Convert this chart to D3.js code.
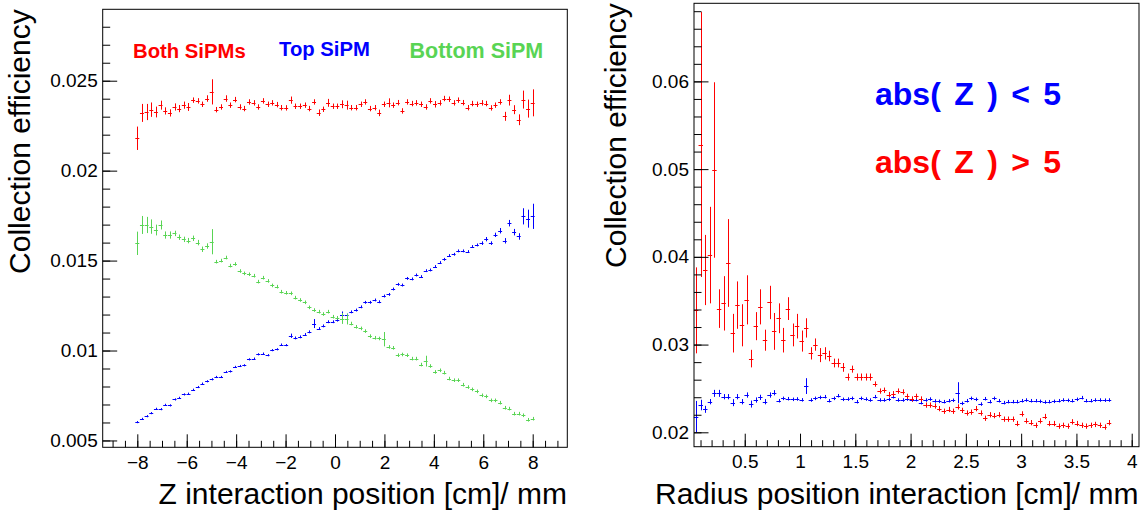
<!DOCTYPE html>
<html><head><meta charset="utf-8">
<script src="https://cdn.jsdelivr.net/npm/d3@7"></script>
<style>
body{margin:0;background:#fff}
svg{display:block}
text{font-family:"Liberation Sans",Arial,Helvetica,sans-serif}
</style>
</head><body>
<svg id="chart" width="1146" height="518"></svg>
<script>
// ---------- Left panel data ----------
const zPositions = [-8,-7.812,-7.624,-7.435,-7.247,-7.059,-6.871,-6.682,-6.494,-6.306,
-6.118,-5.929,-5.741,-5.553,-5.365,-5.176,-4.988,-4.8,-4.612,-4.424,
-4.235,-4.047,-3.859,-3.671,-3.482,-3.294,-3.106,-2.918,-2.729,-2.541,
-2.353,-2.165,-1.976,-1.788,-1.6,-1.412,-1.224,-1.035,-0.847,-0.659,
-0.471,-0.282,-0.094,0.094,0.282,0.471,0.659,0.847,1.035,1.224,
1.412,1.6,1.788,1.976,2.165,2.353,2.541,2.729,2.918,3.106,
3.294,3.482,3.671,3.859,4.047,4.235,4.424,4.612,4.8,4.988,
5.176,5.365,5.553,5.741,5.929,6.118,6.306,6.494,6.682,6.871,
7.059,7.247,7.435,7.624,7.812,8];
const bothEff = [0.02180,0.02321,0.02326,0.02339,0.02326,0.02364,0.02332,0.02321,0.02354,0.02345,
0.02364,0.02354,0.02392,0.02388,0.02369,0.02401,0.02438,0.02339,0.02354,0.02401,
0.02364,0.02395,0.02354,0.02345,0.02382,0.02377,0.02354,0.02388,0.02369,0.02377,
0.02367,0.02350,0.02349,0.02392,0.02358,0.02358,0.02364,0.02345,0.02382,0.02322,
0.02341,0.02377,0.02358,0.02358,0.02369,0.02364,0.02350,0.02350,0.02369,0.02382,
0.02345,0.02350,0.02321,0.02369,0.02377,0.02364,0.02378,0.02332,0.02382,0.02373,
0.02377,0.02369,0.02354,0.02388,0.02369,0.02377,0.02401,0.02397,0.02377,0.02392,
0.02378,0.02350,0.02373,0.02369,0.02377,0.02373,0.02349,0.02364,0.02382,0.02302,
0.02392,0.02339,0.02283,0.02395,0.02345,0.02377];
const bothErr = [0.00065,0.0005,0.00045,0.0004,0.0003,0.00025,0.0002,0.0002,0.0002,0.0002,
0.0002,0.00022,0.00015,0.00015,0.00015,0.00018,0.0007,0.00015,0.00015,0.00018,
0.00015,0.00015,0.00015,0.00015,0.00015,0.00015,0.00015,0.00015,0.00015,0.00015,
0.00015,0.00015,0.00015,0.0002,0.00015,0.00015,0.00015,0.00015,0.00015,0.00018,
0.00015,0.00022,0.00015,0.00015,0.00022,0.00025,0.00015,0.00015,0.00015,0.00015,
0.00015,0.00015,0.00018,0.00015,0.00025,0.00015,0.00015,0.00015,0.00015,0.00015,
0.00015,0.00015,0.00015,0.00015,0.00018,0.00015,0.00015,0.00015,0.00015,0.00015,
0.00015,0.00015,0.00015,0.00015,0.00015,0.00015,0.00015,0.00015,0.00015,0.00025,
0.0003,0.00025,0.0003,0.0005,0.0005,0.00075];
const topEff = [0.00602,0.00620,0.00635,0.00652,0.00676,0.00674,0.00698,0.00695,0.00728,0.00737,
0.00756,0.00760,0.00782,0.00797,0.00816,0.00829,0.00840,0.00853,0.00853,0.00881,
0.00884,0.00909,0.00914,0.00918,0.00951,0.00955,0.00979,0.00983,0.00974,0.01002,
0.01007,0.01033,0.01030,0.01082,0.01070,0.01076,0.01089,0.01104,0.01150,0.01122,
0.01137,0.01160,0.01160,0.01169,0.01197,0.01197,0.01215,0.01225,0.01243,0.01268,
0.01268,0.01281,0.01271,0.01303,0.01312,0.01342,0.01368,0.01364,0.01401,0.01398,
0.01420,0.01411,0.01444,0.01448,0.01467,0.01489,0.01507,0.01528,0.01535,0.01554,
0.01554,0.01550,0.01578,0.01587,0.01597,0.01619,0.01597,0.01643,0.01666,0.01610,
0.01708,0.01658,0.01634,0.01746,0.01733,0.01746];
const topErr = [0.00006,0.00006,0.00006,0.00006,0.00006,0.00006,0.00006,0.00006,0.00006,0.00006,
0.00006,0.00006,0.00006,0.00006,0.00006,0.00006,0.00006,0.00006,0.00006,0.00006,
0.00006,0.00006,0.00006,0.00006,0.00006,0.00006,0.00006,0.00006,0.00006,0.00006,
0.00006,0.00006,0.00006,0.00012,0.00008,0.00008,0.00008,0.00008,0.00025,0.00008,
0.00008,0.00008,0.00008,0.00008,0.0002,0.00008,0.00008,0.00008,0.00008,0.00008,
0.00008,0.00008,0.00008,0.00008,0.00008,0.00008,0.00008,0.00008,0.00008,0.00008,
0.00008,0.00008,0.00008,0.00008,0.00008,0.00008,0.00008,0.00008,0.00008,0.00008,
0.00008,0.00008,0.00008,0.00008,0.0001,0.00012,0.0001,0.00012,0.00015,0.00015,
0.00018,0.00018,0.00018,0.00045,0.0005,0.0007];
const bottomEff = [0.01596,0.01698,0.01698,0.01689,0.01670,0.01698,0.01642,0.01642,0.01651,0.01630,
0.01618,0.01611,0.01624,0.01600,0.01563,0.01581,0.01605,0.01494,0.01500,0.01517,
0.01472,0.01481,0.01442,0.01429,0.01424,0.01416,0.01383,0.01405,0.01387,0.01362,
0.01355,0.01327,0.01321,0.01318,0.01294,0.01281,0.01268,0.01240,0.01225,0.01216,
0.01203,0.01216,0.01188,0.01182,0.01178,0.01175,0.01150,0.01132,0.01123,0.01108,
0.01080,0.01071,0.01067,0.01063,0.01020,0.01015,0.00974,0.00978,0.00974,0.00955,
0.00955,0.00922,0.00941,0.00914,0.00881,0.00890,0.00877,0.00844,0.00835,0.00835,
0.00810,0.00797,0.00784,0.00773,0.00751,0.00745,0.00723,0.00723,0.00710,0.00682,
0.00677,0.00649,0.00649,0.00640,0.00615,0.00621];
const bottomErr = [0.00065,0.0005,0.00045,0.0004,0.0003,0.00025,0.0002,0.0002,0.00015,0.00015,
0.00015,0.00015,0.00015,0.00015,0.00015,0.00015,0.0007,0.0001,0.0001,0.0001,
0.0001,0.0001,0.0001,0.0001,0.0001,0.0001,0.0001,0.0001,0.0001,0.0001,
0.0001,0.0001,0.0001,0.0001,0.0001,0.0001,0.0001,0.0001,0.0001,0.0001,
0.0001,0.0001,0.0001,0.0001,0.0003,0.0003,0.0001,0.0001,0.0001,0.0001,
0.0001,0.0001,0.0001,0.0004,0.0001,0.0001,0.0001,0.0001,0.0001,0.0001,
0.0001,0.0001,0.0003,0.0001,0.0001,0.0001,0.0001,0.0001,0.0001,0.0001,
0.0001,0.0001,0.0001,0.0001,0.0001,0.0001,0.0001,0.0001,0.0001,0.0001,
0.0001,0.0001,0.0001,0.0001,0.0001,0.0001];
const leftSeries = [
  {name: "Both SiPMs", color: "#ff0000", eff: bothEff, err: bothErr},
  {name: "Top SiPM", color: "#0000ff", eff: topEff, err: topErr},
  {name: "Bottom SiPM", color: "#59d454", eff: bottomEff, err: bottomErr}
];
const leftXTicks = [-8, -6, -4, -2, 0, 2, 4, 6, 8];
const leftYTicks = [0.005, 0.01, 0.015, 0.02, 0.025];
const leftYTickLabels = ["0.005", "0.01", "0.015", "0.02", "0.025"];

// ---------- Right panel data ----------
const rPositions = [0.060,0.102,0.143,0.185,0.226,0.268,0.309,0.351,0.392,0.434,
0.475,0.517,0.558,0.600,0.641,0.683,0.724,0.766,0.807,0.849,
0.890,0.932,0.973,1.015,1.056,1.098,1.139,1.181,1.222,1.264,
1.305,1.347,1.388,1.430,1.471,1.513,1.554,1.596,1.637,1.679,
1.720,1.762,1.803,1.845,1.886,1.928,1.969,2.011,2.052,2.094,
2.135,2.177,2.218,2.260,2.301,2.343,2.384,2.426,2.467,2.509,
2.550,2.592,2.633,2.675,2.716,2.758,2.799,2.841,2.882,2.924,
2.965,3.007,3.048,3.090,3.131,3.173,3.214,3.256,3.297,3.339,
3.380,3.422,3.463,3.505,3.546,3.588,3.629,3.671,3.712,3.754,3.795];
const innerEff = [0.02178,0.02311,0.02262,0.02349,0.02444,0.02444,0.02406,0.02406,0.02338,0.02406,
0.02349,0.02425,0.02322,0.02368,0.02398,0.02349,0.02425,0.02451,0.02360,0.02387,
0.02383,0.02376,0.02380,0.02370,0.02527,0.02368,0.02387,0.02398,0.02406,0.02360,
0.02387,0.02417,0.02376,0.02379,0.02387,0.02349,0.02387,0.02379,0.02368,0.02406,
0.02368,0.02368,0.02376,0.02406,0.02368,0.02368,0.02379,0.02368,0.02372,0.02338,
0.02368,0.02379,0.02357,0.02353,0.02349,0.02360,0.02365,0.02451,0.02330,0.02360,
0.02387,0.02376,0.02322,0.02383,0.02349,0.02387,0.02360,0.02338,0.02349,0.02349,
0.02349,0.02360,0.02368,0.02360,0.02360,0.02353,0.02345,0.02349,0.02353,0.02360,
0.02368,0.02364,0.02360,0.02376,0.02395,0.02360,0.02360,0.02368,0.02368,0.02366,0.02368];
const innerErr = [0.0018,0.0006,0.0004,0.0003,0.0004,0.0004,0.0003,0.0003,0.0004,0.0003,
0.0003,0.0003,0.0004,0.0003,0.0003,0.0003,0.0003,0.0003,0.0002,0.0002,
0.0002,0.0002,0.0002,0.0002,0.0009,0.0002,0.0002,0.0002,0.0002,0.0002,
0.0002,0.0002,0.0002,0.0002,0.0002,0.0002,0.0002,0.0002,0.0002,0.0002,
0.0002,0.0002,0.0002,0.0002,0.0002,0.0002,0.0002,0.0002,0.0002,0.0002,
0.0002,0.0002,0.0002,0.0002,0.0002,0.0002,0.0002,0.0012,0.0002,0.0002,
0.0002,0.0002,0.0002,0.0002,0.0002,0.0002,0.0002,0.0002,0.0002,0.0002,
0.0002,0.0002,0.0002,0.0002,0.0002,0.0002,0.0002,0.0002,0.0002,0.0002,
0.0002,0.0002,0.0002,0.0002,0.0002,0.0002,0.0002,0.0002,0.0002,0.0002,0.0002];
const outerEff = [0.0339,0.0528,0.0385,0.0402,0.0499,0.0341,0.0347,0.0393,0.0313,0.0345,
0.0322,0.0351,0.0284,0.0321,0.0343,0.0305,0.0348,0.0315,0.0330,0.0305,
0.0341,0.0311,0.0321,0.0304,0.0319,0.0290,0.0300,0.0288,0.0290,0.0287,
0.0279,0.0279,0.0274,0.0263,0.0272,0.0263,0.0263,0.0263,0.0263,0.0255,
0.0247,0.0248,0.0243,0.0244,0.0247,0.0246,0.0241,0.0238,0.0241,0.0238,
0.0231,0.0231,0.0230,0.0227,0.0224,0.0226,0.0224,0.0229,0.0225,0.0222,
0.0223,0.0227,0.0222,0.0216,0.0220,0.0219,0.0220,0.0215,0.0215,0.0215,
0.0210,0.0221,0.0213,0.0211,0.0208,0.0213,0.0218,0.0210,0.0210,0.0207,
0.0208,0.0207,0.0212,0.0210,0.0208,0.0207,0.0208,0.0209,0.0208,0.0206,0.0211];
const outerErr = [0.0049,0.0151,0.004,0.0055,0.01,0.0022,0.0031,0.005,0.0022,0.0027,
0.0024,0.0028,0.001,0.0016,0.002,0.0012,0.0019,0.0021,0.0017,0.0014,
0.0013,0.0013,0.0014,0.0012,0.0011,0.0007,0.0007,0.0008,0.0007,0.0006,
0.0005,0.0005,0.0005,0.0004,0.0004,0.0004,0.0004,0.0004,0.0004,0.0003,
0.0003,0.0003,0.0003,0.0003,0.0003,0.0003,0.0003,0.0003,0.0003,0.0003,
0.0003,0.0003,0.0003,0.0003,0.0003,0.0003,0.0003,0.0003,0.0003,0.0003,
0.0003,0.0003,0.0003,0.0003,0.0003,0.0003,0.0003,0.0003,0.0003,0.0003,
0.0003,0.0003,0.0003,0.0003,0.0003,0.0003,0.0003,0.0003,0.0003,0.0003,
0.0003,0.0003,0.0003,0.0003,0.0003,0.0003,0.0003,0.0003,0.0003,0.0003,0.0003];
const rightSeries = [
  {name: "abs( Z ) < 5", color: "#0000ff", eff: innerEff, err: innerErr},
  {name: "abs( Z ) > 5", color: "#ff0000", eff: outerEff, err: outerErr}
];
const rightXTicks = [0.5, 1, 1.5, 2, 2.5, 3, 3.5, 4];
const rightXTickLabels = ["0.5", "1", "1.5", "2", "2.5", "3", "3.5", "4"];
const rightYTicks = [0.02, 0.03, 0.04, 0.05, 0.06];
const rightYTickLabels = ["0.02", "0.03", "0.04", "0.05", "0.06"];

// ---------- drawing ----------
const svg = d3.select("#chart");
svg.append("rect").attr("width", 1146).attr("height", 518).attr("fill", "#fff");

function panel(opt) {
  const g = svg.append("g");
  const x = d3.scaleLinear().domain(opt.xDomain).range([opt.left, opt.right]);
  const y = d3.scaleLinear().domain(opt.yDomain).range([opt.bottom, opt.top]);

  opt.series.forEach(s => {
    const sg = g.append("g").attr("stroke", s.color).attr("stroke-width", 1).attr("fill", "none");
    const pts = opt.xs.map((xv, i) => ({x: xv, v: s.eff[i], e: s.err[i]})).filter(d => d.v != null);
    sg.selectAll("line.v").data(pts).join("line").attr("class", "v")
      .attr("x1", d => Math.round(x(d.x)) + 0.5).attr("x2", d => Math.round(x(d.x)) + 0.5)
      .attr("y1", d => Math.max(opt.top, y(d.v + d.e))).attr("y2", d => Math.min(opt.bottom, y(d.v - d.e)));
    sg.selectAll("line.h").data(pts).join("line").attr("class", "h")
      .attr("x1", d => x(d.x - opt.halfBin)).attr("x2", d => x(d.x + opt.halfBin))
      .attr("y1", d => Math.round(y(d.v)) + 0.5).attr("y2", d => Math.round(y(d.v)) + 0.5);
  });

  g.append("rect").attr("x", opt.left).attr("y", opt.top)
    .attr("width", opt.right - opt.left).attr("height", opt.bottom - opt.top)
    .attr("fill", "none").attr("stroke", "#000").attr("stroke-width", 1);

  const yMinor = d3.range(opt.yMinorStart, opt.yDomain[1], opt.yMinorStep).filter(v => v >= opt.yDomain[0]);
  const yAxisMinor = d3.axisLeft(y).tickValues(yMinor).tickSize(-7.5).tickFormat("");
  const yAxisMajor = d3.axisLeft(y).tickValues(opt.yTicks).tickSize(-14.5).tickPadding(5)
    .tickFormat((d, i) => opt.yLabels[i]);
  const gy1 = g.append("g").attr("transform", `translate(${opt.left},0)`).call(yAxisMinor);
  const gy2 = g.append("g").attr("transform", `translate(${opt.left},0)`).call(yAxisMajor);

  const xMinor = d3.range(opt.xMinorStart, opt.xDomain[1], opt.xMinorStep).filter(v => v >= opt.xDomain[0]);
  const xAxisMinor = d3.axisBottom(x).tickValues(xMinor).tickSize(-6.5).tickFormat("");
  const xAxisMajor = d3.axisBottom(x).tickValues(opt.xTicks).tickSize(-13).tickPadding(8)
    .tickFormat((d, i) => opt.xLabels ? opt.xLabels[i] : d3.format("")(d));
  const gx1 = g.append("g").attr("transform", `translate(0,${opt.bottom})`).call(xAxisMinor);
  const gx2 = g.append("g").attr("transform", `translate(0,${opt.bottom})`).call(xAxisMajor);

  [gy1, gy2, gx1, gx2].forEach(a => {
    a.select(".domain").remove();
    a.selectAll("line").attr("stroke", "#000");
    a.selectAll("text").attr("font-size", 19).attr("fill", "#000")
      .attr("font-family", '"Liberation Sans",Arial,sans-serif');
  });

  g.append("text").attr("transform", `translate(${opt.yTitleX},${opt.top}) rotate(-90)`)
    .attr("text-anchor", "end").attr("font-size", 30).text("Collection efficiency");
  g.append("text").attr("x", opt.xTitleRight).attr("y", 504)
    .attr("text-anchor", "end").attr("font-size", 30).text(opt.xTitle);
  return g;
}

const gl = panel({
  left: 102.7, right: 567.3, top: 9.3, bottom: 447.3,
  xDomain: [-9.4, 9.4], yDomain: [0.00462, 0.02897],
  xs: zPositions, series: leftSeries, halfBin: 0.08,
  xTicks: leftXTicks, xMinorStart: -9.5, xMinorStep: 0.5,
  yTicks: leftYTicks, yLabels: leftYTickLabels, yMinorStart: 0.005, yMinorStep: 0.001,
  yTitleX: 30, xTitleRight: 567, xTitle: "Z interaction position [cm]/ mm"
});
[["Both SiPMs", "#ff0000", 133, 57.5, 20.3],
 ["Top SiPM", "#0000ff", 279, 56, 20.3],
 ["Bottom SiPM", "#59d454", 409.5, 57.5, 21.5]].forEach(([t, c, x, y, s]) => {
  gl.append("text").attr("x", x).attr("y", y).attr("fill", c).attr("font-weight", "bold")
    .attr("font-size", s).text(t);
});

const gr = panel({
  left: 694, right: 1139, top: 3.3, bottom: 446.7,
  xDomain: [0.041, 4.066], yDomain: [0.01836, 0.0689],
  xs: rPositions, series: rightSeries, halfBin: 0.02,
  xTicks: rightXTicks, xLabels: rightXTickLabels, xMinorStart: 0.1, xMinorStep: 0.1,
  yTicks: rightYTicks, yLabels: rightYTickLabels, yMinorStart: 0.02, yMinorStep: 0.002,
  yTitleX: 626, xTitleRight: 1138.5, xTitle: "Radius position interaction [cm]/ mm"
});
[["abs( Z ) < 5", "#0000ff", 875, 105],
 ["abs( Z ) > 5", "#ff0000", 875, 173]].forEach(([t, c, x, y]) => {
  gr.append("text").attr("x", x).attr("y", y).attr("fill", c).attr("font-weight", "bold")
    .attr("font-size", 32).attr("word-spacing", 4.5).style("white-space", "pre").text(t);
});
</script>
</body></html>
